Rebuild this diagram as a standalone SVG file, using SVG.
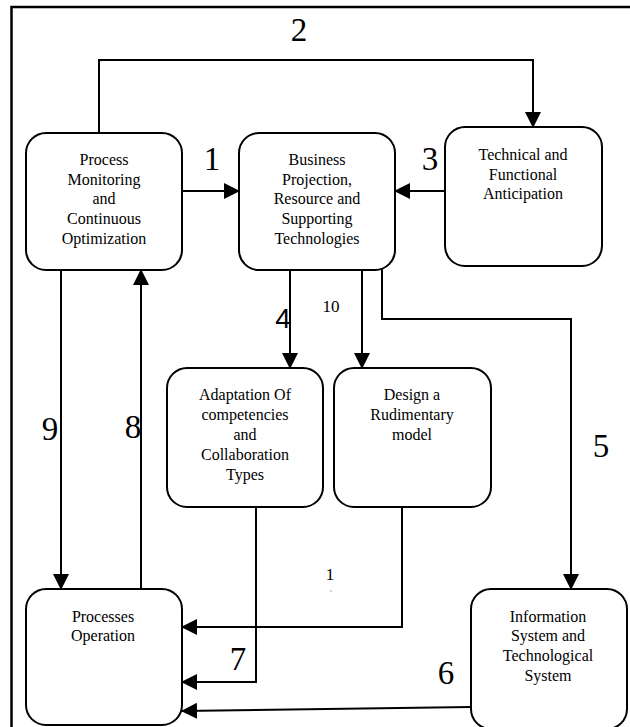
<svg xmlns="http://www.w3.org/2000/svg" width="630" height="727" viewBox="0 0 630 727">
  <style>
    .box { fill: #ffffff; stroke: #000000; stroke-width: 2; }
    .lbl { font-size: 16px; fill: #000000; text-anchor: middle; }
    .num { font-size: 33px; fill: #000000; text-anchor: middle; }
    .num-s { font-size: 17px; fill: #000000; text-anchor: middle; }
    .num-sans { font-size: 28px; fill: #000000; text-anchor: middle; }
    .wire { fill: none; stroke: #000000; stroke-width: 2; marker-end: url(#head); }
    .frame { fill: none; stroke: #000000; stroke-width: 2.5; }
  </style>
  <defs>
    <marker id="head" markerWidth="16" markerHeight="16" refX="15" refY="8" orient="auto" markerUnits="userSpaceOnUse">
      <path d="M0,0 L16,8 L0,16 Z" fill="#000000"/>
    </marker>
  </defs>

  <rect width="630" height="727" fill="#ffffff"/>
  <!-- outer frame -->
  <path class="frame" d="M11.5,727 V7 H630"/>

  <!-- connectors -->
  <g id="connectors">
    <path class="wire" d="M99,133 V60 H533 V127"/>
    <path class="wire" d="M182,191 H239"/>
    <path class="wire" d="M445,191 H395"/>
    <path class="wire" d="M290,270 V368"/>
    <path class="wire" d="M362,270 V368"/>
    <path class="wire" d="M382,268 V319 H571 V589"/>
    <path class="wire" d="M61,270 V589"/>
    <path class="wire" d="M141,589 V270"/>
    <path class="wire" d="M256,507 V682 H182"/>
    <path class="wire" d="M402,507 V627 H182"/>
    <path class="wire" d="M471,707 L182,711"/>
    <!-- stray speck under the lower "1" -->
    <circle cx="331" cy="591" r="0.8" fill="#999999"/>
  </g>

  <!-- connector numbers -->
  <g id="numbers" font-family="Liberation Serif, Times New Roman, serif">
    <text class="num" x="299" y="41">2</text>
    <text class="num" x="212" y="170">1</text>
    <text class="num" x="430" y="170">3</text>
    <text class="num-sans" x="283" y="328" font-family="Liberation Sans, Arial, sans-serif">4</text>
    <text class="num-s" x="331" y="312">10</text>
    <text class="num" x="601" y="457">5</text>
    <text class="num" x="50" y="440">9</text>
    <text class="num" x="133" y="438">8</text>
    <text class="num" x="238" y="670">7</text>
    <text class="num-s" x="330" y="580">1</text>
    <text class="num" x="446" y="684">6</text>
  </g>

  <!-- nodes -->
  <g font-family="Liberation Serif, Times New Roman, serif">
  <g id="process-monitoring">
    <rect class="box" x="26" y="133" width="156" height="137" rx="20"/>
    <text class="lbl" x="104" y="165">Process</text>
    <text class="lbl" x="104" y="185">Monitoring</text>
    <text class="lbl" x="104" y="204">and</text>
    <text class="lbl" x="104" y="224">Continuous</text>
    <text class="lbl" x="104" y="244">Optimization</text>
  </g>

  <g id="business-projection">
    <rect class="box" x="239" y="133" width="156" height="137" rx="20"/>
    <text class="lbl" x="317" y="165">Business</text>
    <text class="lbl" x="317" y="185">Projection,</text>
    <text class="lbl" x="317" y="204">Resource and</text>
    <text class="lbl" x="317" y="224">Supporting</text>
    <text class="lbl" x="317" y="244">Technologies</text>
  </g>

  <g id="technical-anticipation">
    <rect class="box" x="445" y="127" width="157" height="139" rx="20"/>
    <text class="lbl" x="523" y="160">Technical and</text>
    <text class="lbl" x="523" y="180">Functional</text>
    <text class="lbl" x="523" y="199">Anticipation</text>
  </g>

  <g id="adaptation">
    <rect class="box" x="167" y="368" width="156" height="139" rx="20"/>
    <text class="lbl" x="245" y="400">Adaptation Of</text>
    <text class="lbl" x="245" y="420">competencies</text>
    <text class="lbl" x="245" y="440">and</text>
    <text class="lbl" x="245" y="460">Collaboration</text>
    <text class="lbl" x="245" y="480">Types</text>
  </g>

  <g id="rudimentary-model">
    <rect class="box" x="334" y="368" width="157" height="139" rx="20"/>
    <text class="lbl" x="412" y="400">Design a</text>
    <text class="lbl" x="412" y="420">Rudimentary</text>
    <text class="lbl" x="412" y="440">model</text>
  </g>

  <g id="processes-operation">
    <rect class="box" x="26" y="589" width="156" height="136" rx="20"/>
    <text class="lbl" x="103" y="622">Processes</text>
    <text class="lbl" x="103" y="641">Operation</text>
  </g>

  <g id="information-system">
    <rect class="box" x="471" y="589" width="156" height="140" rx="20"/>
    <text class="lbl" x="548" y="622">Information</text>
    <text class="lbl" x="548" y="641">System and</text>
    <text class="lbl" x="548" y="661">Technological</text>
    <text class="lbl" x="548" y="681">System</text>
  </g>
  </g>
</svg>
